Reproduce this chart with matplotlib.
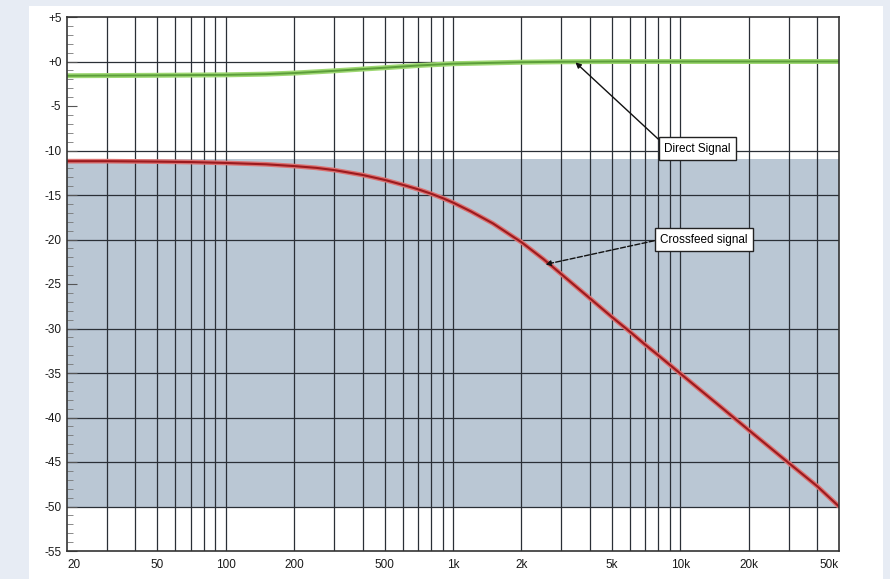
import matplotlib
matplotlib.use('Agg')
import numpy as np
import matplotlib.pyplot as plt
from matplotlib.patches import Rectangle

plt.rcParams['font.family'] = ['Liberation Sans', 'DejaVu Sans']

# frequency points (Hz)
freq_direct = [20, 50, 100, 150, 200, 300, 400, 500, 700, 1000, 1500, 2000, 3000, 5000, 10000, 20000, 50000]
direct_db = [-1.6, -1.55, -1.5, -1.42, -1.3, -1.05, -0.85, -0.7, -0.45, -0.25, -0.15, -0.08, -0.03, 0.0, 0.0, 0.0, 0.0]

freq_cross = [20, 30, 50, 70, 100, 150, 200, 250, 300, 400, 500, 600, 700, 800, 900, 1000, 1200,
              1500, 2000, 2500, 3000, 4000, 5000, 6000, 7000, 8000, 10000, 15000, 20000, 30000,
              40000, 50000]
cross_db = [-11.2, -11.2, -11.25, -11.3, -11.4, -11.55, -11.75, -11.95, -12.2, -12.75, -13.3, -13.85,
            -14.35, -14.85, -15.35, -15.85, -16.85, -18.2, -20.3, -22.2, -23.9, -26.6, -28.7, -30.35,
            -31.8, -33.0, -35.05, -38.75, -41.4, -45.1, -47.7, -50.0]

band_top = -11.0
band_bottom = -50.0

xtick_vals = [20, 50, 100, 200, 500, 1000, 2000, 5000, 10000, 20000, 50000]
xtick_labels = ['20', '50', '100', '200', '500', '1k', '2k', '5k', '10k', '20k', '50k']
ytick_vals = list(range(5, -60, -5))
ytick_labels = ['+5', '+0'] + [str(v) for v in range(-5, -60, -5)]
hgrid = [0, -10, -15, -20, -30, -35, -40, -45, -50]

fig = plt.figure(figsize=(8.9, 5.79), dpi=100)
fig.patch.set_facecolor('#e7ecf4')
fig.patches.append(Rectangle((29 / 890, 0), (883 - 29) / 890, 1 - 6 / 579,
                             transform=fig.transFigure, facecolor='white',
                             edgecolor='none', zorder=-10))

ax = fig.add_axes([67 / 890, 1 - 551 / 579, (839 - 67) / 890, (551 - 17) / 579])
ax.set_zorder(1)
ax.set_facecolor('white')
ax.set_xscale('log')
ax.set_xlim(20, 50000)
ax.set_ylim(-55, 5)

# shaded crossfeed region
ax.axhspan(band_bottom, band_top, color='#bac7d4', zorder=0.5, lw=0)

# grid
vgrid = [m * 10 ** d for d in range(1, 5) for m in range(1, 10)]
vgrid = [v for v in vgrid if 20 < v < 50000]
for v in vgrid:
    ax.axvline(v, color='#2a2f36', lw=0.9, zorder=1)
for h in hgrid:
    ax.axhline(h, color='#2a2f36', lw=0.9, zorder=1)

# curves
ax.plot(freq_direct, direct_db, color='#9fd873', lw=3.6, zorder=3, solid_capstyle='butt')
ax.plot(freq_direct, direct_db, color='#5c9e3a', lw=1.4, zorder=4)
ax.plot(freq_cross, cross_db, color='#dc7272', lw=3.4, zorder=3, solid_capstyle='butt')
ax.plot(freq_cross, cross_db, color='#9c1a1e', lw=1.5, zorder=4)

# annotations
box = dict(boxstyle='square,pad=0.45', facecolor='white', edgecolor='#222222', lw=1.0)
ax.annotate('Direct Signal', xy=(3460, -0.1), xytext=(11900, -9.8),
            fontsize=8.5, ha='center', va='center', bbox=box, zorder=6,
            arrowprops=dict(arrowstyle='-|>', color='#111111', lw=1.0,
                            mutation_scale=8, shrinkA=0, shrinkB=0,
                            relpos=(0, 0.85)))
ax.annotate('Crossfeed signal', xy=(2550, -22.8), xytext=(12700, -20.0),
            fontsize=8.5, ha='center', va='center', bbox=box, zorder=6,
            arrowprops=dict(arrowstyle='-|>', color='#111111', lw=1.0,
                            mutation_scale=8, shrinkA=0, shrinkB=0,
                            linestyle='--', relpos=(0, 0.5)))

# ticks
ax.set_xticks(xtick_vals)
ax.set_xticklabels(xtick_labels)
ax.xaxis.set_minor_locator(matplotlib.ticker.NullLocator())
ax.tick_params(axis='x', length=0, pad=6, labelsize=8.5, labelcolor='#1a1a1a')
labels = ax.get_xticklabels()
labels[0].set_ha('left')
labels[-1].set_ha('right')

ax.set_yticks(ytick_vals)
ax.set_yticklabels(ytick_labels)
ax.set_yticks(np.arange(-55, 6, 1), minor=True)
ax.tick_params(axis='y', which='major', direction='in', length=7, width=0.8,
               color='#555555', pad=4, labelsize=8.5, labelcolor='#1a1a1a')
ax.tick_params(axis='y', which='minor', direction='in', length=4, width=0.6,
               color='#777777')

for s in ax.spines.values():
    s.set_color('#333333')
    s.set_linewidth(1.2)
    s.set_zorder(5)

fig.savefig('out.png', dpi=100, facecolor=fig.get_facecolor())
